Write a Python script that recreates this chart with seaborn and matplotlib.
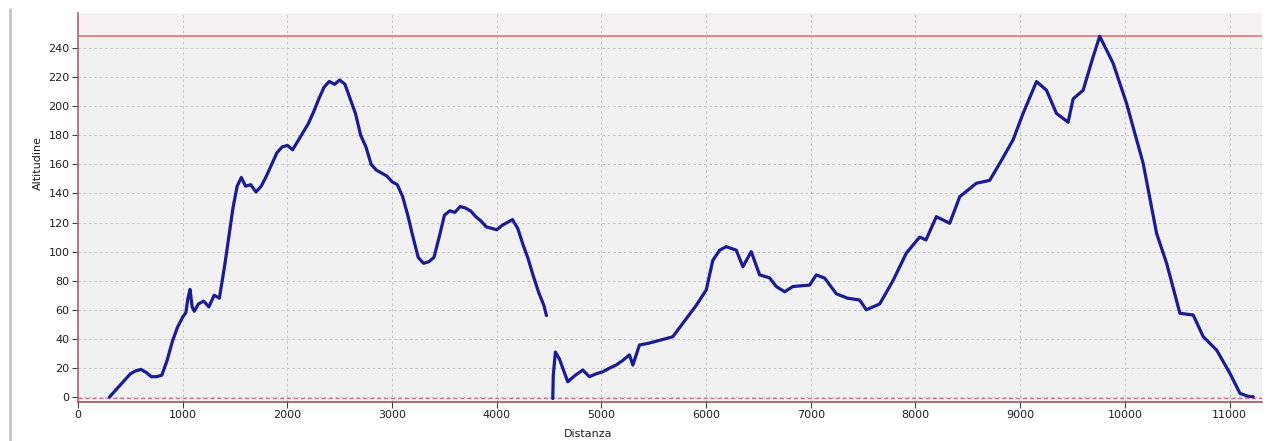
"""
Profilo altimetrico: Altitudine vs Distanza.
"""

import numpy as np
import pandas as pd
import matplotlib.pyplot as plt
from matplotlib.lines import Line2D
import seaborn as sns

# primo tratto (m)
dist_1 = [300, 350, 400, 450, 500, 550, 600, 650, 700, 750, 800, 850, 900, 950,
          1000, 1030, 1050, 1070, 1090, 1110, 1150, 1200, 1250, 1300, 1350, 1400,
          1450, 1480, 1520, 1560, 1600, 1650, 1700, 1750, 1800, 1850, 1900, 1950,
          2000, 2050, 2100, 2150, 2200, 2250, 2300, 2350, 2400, 2450, 2500, 2550,
          2600, 2650, 2700, 2750, 2800, 2850, 2900, 2950, 3000, 3050, 3100, 3150,
          3200, 3250, 3300, 3350, 3400, 3450, 3500, 3550, 3600, 3650, 3700, 3750,
          3800, 3850, 3900, 3950, 4000, 4050, 4100, 4150, 4200, 4250, 4300, 4350,
          4400, 4450, 4475]
alt_1 = [0, 4, 8, 12, 16, 18, 19, 17, 14, 14, 15, 25, 38, 48,
         55, 58, 68, 74, 62, 59, 64, 66, 62, 70, 68, 90,
         115, 130, 145, 151, 145, 146, 141, 145, 152, 160, 168, 172,
         173, 170, 176, 182, 188, 196, 205, 213, 217, 215, 218, 215,
         205, 195, 180, 172, 160, 156, 154, 152, 148, 146, 138, 125,
         110, 96, 92, 93, 96, 110, 125, 128, 127, 131, 130, 128,
         124, 121, 117, 116, 115, 118, 120, 122, 116, 105, 95, 83,
         72, 63, 56]

# secondo tratto (m)
dist_2 = [4535, 4540, 4560, 4600, 4678, 4750, 4822, 4885, 4950, 5013, 5080, 5140,
          5200, 5268, 5300, 5363, 5450, 5554, 5682, 5777, 5905, 6001, 6064, 6130,
          6192, 6288, 6351, 6431, 6511, 6606, 6670, 6750, 6829, 6989, 7052, 7132,
          7244, 7350, 7467, 7530, 7658, 7785, 7913, 8040, 8100, 8199, 8327, 8423,
          8582, 8709, 8805, 8932, 9028, 9156, 9251, 9347, 9458, 9506, 9602, 9697,
          9760, 9888, 10016, 10175, 10303, 10399, 10526, 10653, 10749, 10877, 11004,
          11100, 11180, 11227]
alt_2 = [-1, 15, 31, 26, 10.5, 15, 18.6, 14, 16, 17.4, 20, 22,
         25, 29, 22, 35.8, 37, 39, 41.5, 50.7, 63, 73.6, 94, 101,
         103.4, 101, 89.6, 100, 84, 82, 76, 72.4, 76, 77, 84, 81.8,
         71, 68, 66.7, 60, 64, 80, 99, 110, 108, 124, 119.5, 137.8,
         147, 149, 160.7, 176.8, 195, 216.9, 211, 195, 189, 205, 211, 234,
         248, 229.5, 202, 160.7, 112.6, 92, 57.6, 56.4, 41.5, 32.3, 16.3,
         2.5, 0.5, 0.2]

alt_max = 248
alt_min = -0.5

df = pd.concat([
    pd.DataFrame({"Distanza": dist_1, "Altitudine": alt_1, "tratto": 1}),
    pd.DataFrame({"Distanza": dist_2, "Altitudine": alt_2, "tratto": 2}),
])

sns.set_style("white")
plt.rcParams["font.family"] = ["DejaVu Sans"]

fig = plt.figure(figsize=(12.71, 4.41), dpi=100)
ax = fig.add_axes([0.0614, 0.0884, 0.9315, 0.882])
ax.set_facecolor("#f1f1f1")

# fascia sopra la quota massima
ax.axhspan(alt_max, 270, color="#f6f0f0", zorder=0)

for t, sub in df.groupby("tratto"):
    sns.lineplot(data=sub, x="Distanza", y="Altitudine", sort=False, ax=ax,
                 color="#1b1b95", lw=2.3, zorder=3)

ax.axhline(alt_max, color="#e08080", lw=1.3, zorder=2)
ax.axhline(alt_min, color="#d070a0", lw=1.0, ls=(0, (3, 2)), zorder=2)

ax.set_xlim(0, 11310)
ax.set_ylim(-3.4, 264)
ax.set_xticks(np.arange(0, 11001, 1000))
ax.set_yticks(np.arange(0, 241, 20))
ax.grid(True, color="#c4c4c4", ls=(0, (2.5, 3)), lw=0.7)
ax.tick_params(axis="both", labelsize=8, length=4, width=0.8, color="#404040",
               labelcolor="#202020", pad=2, direction="out")
ax.tick_params(axis="x", bottom=True)
ax.tick_params(axis="y", left=True)

for s in ["top", "right"]:
    ax.spines[s].set_visible(False)
ax.spines["left"].set_color("#b06070")
ax.spines["bottom"].set_color("#a05060")
ax.spines["left"].set_linewidth(1.2)
ax.spines["bottom"].set_linewidth(1.2)

ax.set_xlabel("")
ax.set_ylabel("")
fig.text(0.030, 0.63, "Altitudine", rotation=90, fontsize=8, color="#202020",
         ha="center", va="center")
fig.text(0.444, 0.005, "Distanza", fontsize=8, color="#202020", ha="left", va="bottom")

# bordo del pannello
fig.add_artist(Line2D([0.008, 0.008], [0.0, 0.98], transform=fig.transFigure,
                      color="#c4c4c4", lw=2))

fig.savefig("out.png", dpi=100)
plt.close(fig)
